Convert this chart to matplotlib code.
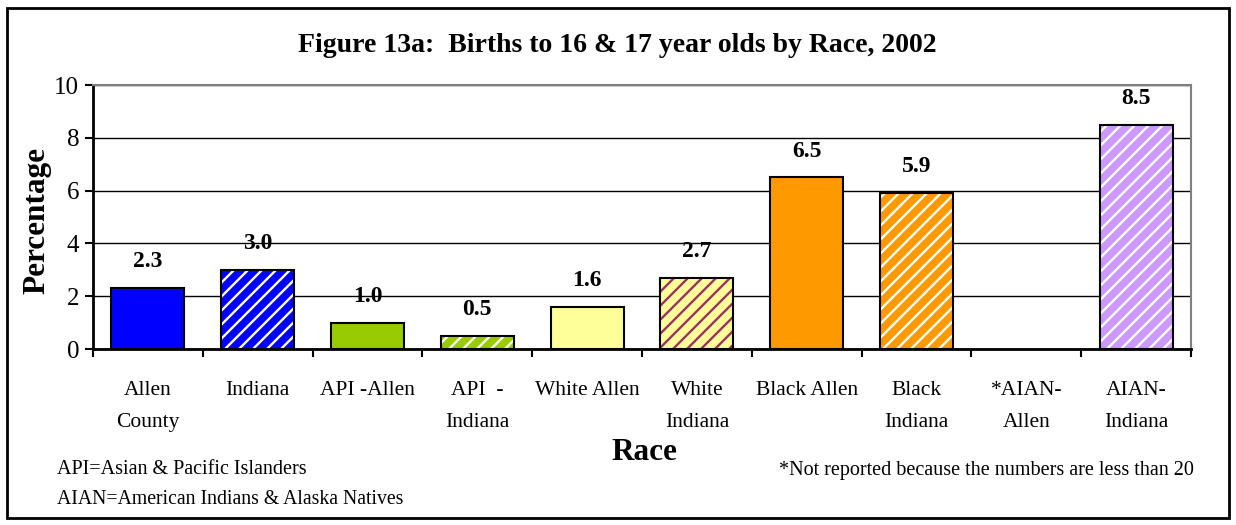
import matplotlib.pyplot as plt
import numpy as np
from matplotlib.patches import Rectangle

W, H = 1236, 525
DPI = 84          # hatch spacing follows the dpi, 84 gives ~7px stripes
S = 100 / DPI     # sizes below are tuned for 100 dpi

categories = ["Allen\nCounty", "Indiana", "API -Allen", "API  -\nIndiana", "White Allen",
              "White\nIndiana", "Black Allen", "Black\nIndiana", "*AIAN-\nAllen", "AIAN-\nIndiana"]
values = [2.3, 3.0, 1.0, 0.5, 1.6, 2.7, 6.5, 5.9, np.nan, 8.5]
face_colors = ["#0000FF", "#0000FF", "#99CC00", "#99CC00", "#FFFF99",
               "#FFFF99", "#FF9900", "#FF9900", "#FFFFFF", "#CC99FF"]
stripe_colors = [None, "#FFFFFF", None, "#FFFFFF", None,
                 "#993366", None, "#FFFFFF", None, "#FFFFFF"]

plt.rcParams["font.family"] = ["Liberation Serif", "DejaVu Serif"]
plt.rcParams["hatch.linewidth"] = 1.7 * S


def fx(px):
    return px / W


def fy(py):
    return 1 - py / H


fig = plt.figure(figsize=(W / DPI, H / DPI), dpi=DPI)
ax = fig.add_axes([fx(93), fy(349), (1191 - 93) / W, (349 - 85) / H])

x = np.arange(len(categories))
bar_w = 0.665
for xi, v, fc, sc in zip(x, values, face_colors, stripe_colors):
    if np.isnan(v):
        continue
    if sc is None:
        ax.bar(xi, v, width=bar_w, color=fc, edgecolor="black", linewidth=1.5 * S, zorder=2)
    else:
        # striped fill first, black outline on top
        ax.bar(xi, v, width=bar_w, color=fc, edgecolor=sc, hatch="//", linewidth=0, zorder=2)
        ax.bar(xi, v, width=bar_w, fill=False, edgecolor="black", linewidth=1.5 * S, zorder=2.1)
    ax.annotate(f"{v:.1f}", (xi, v), xytext=(0, 19 * S), textcoords="offset points",
                ha="center", va="center", fontsize=17 * S, fontweight="bold", zorder=1.2)

ax.set_xlim(-0.5, len(categories) - 0.5)
ax.set_ylim(0, 10)
ax.set_yticks(np.arange(0, 11, 2))
ax.set_axisbelow("line")
ax.yaxis.grid(True, color="black", linewidth=1 * S)

ax.set_xticks(x)
ax.set_xticklabels(categories, fontsize=15.5 * S, linespacing=1.95)
ax.set_xticks(np.arange(-0.5, len(categories)), minor=True)
ax.tick_params(axis="x", which="major", length=0, pad=23 * S)
ax.tick_params(axis="x", which="minor", length=6 * S, width=1.5 * S, direction="out")
ax.tick_params(axis="y", labelsize=18 * S, length=6 * S, width=1.5 * S, pad=4 * S)

for side in ("top", "right"):
    ax.spines[side].set_color("#808080")
    ax.spines[side].set_linewidth(1.5 * S)
for side in ("left", "bottom"):
    ax.spines[side].set_color("black")
    ax.spines[side].set_linewidth(2 * S)

fig.text(fx(617), fy(45), "Figure 13a:  Births to 16 & 17 year olds by Race, 2002",
         ha="center", va="center", fontsize=20 * S, fontweight="bold")
fig.text(fx(37), fy(221), "Percentage", rotation=90, ha="center", va="center",
         fontsize=22.5 * S, fontweight="bold")
fig.text(fx(644), fy(453), "Race", ha="center", va="center", fontsize=22.5 * S, fontweight="bold")
fig.text(fx(57), fy(470), "API=Asian & Pacific Islanders", ha="left", va="center", fontsize=14.5 * S)
fig.text(fx(57), fy(500), "AIAN=American Indians & Alaska Natives", ha="left", va="center",
         fontsize=14.2 * S)
fig.text(fx(1194), fy(470), "*Not reported because the numbers are less than 20",
         ha="right", va="center", fontsize=14.5 * S)

fig.patches.append(Rectangle((fx(7), fy(518)), (1229 - 7) / W, (518 - 8) / H,
                             transform=fig.transFigure, fill=False,
                             edgecolor="black", linewidth=2 * S))

fig.savefig("out.png", dpi=DPI)
